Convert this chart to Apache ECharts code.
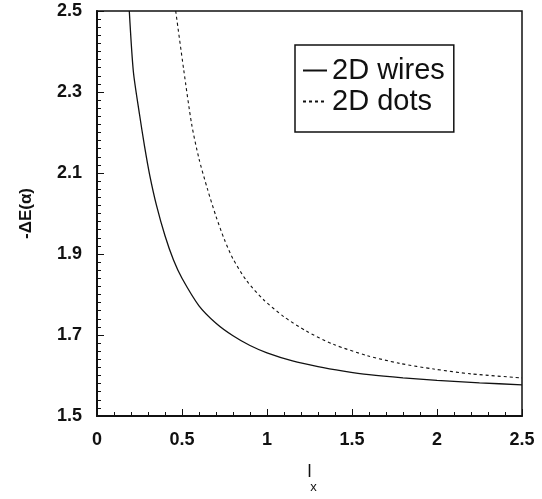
<!DOCTYPE html>
<html>
<head>
<meta charset="utf-8">
<script src="https://cdn.jsdelivr.net/npm/echarts@6/dist/echarts.min.js"></script>
<style>
  html, body { margin: 0; padding: 0; background: #fff; }
  #chart { width: 542px; height: 499px; }
</style>
</head>
<body>
<div id="chart"></div>
<script>
// 2D wires (solid)
const wiresX = [0.19, 0.214, 0.25, 0.28, 0.31, 0.35, 0.40, 0.45, 0.50, 0.60, 0.70, 0.80, 0.90, 1.0, 1.15, 1.30, 1.45, 1.60, 1.80, 2.0, 2.25, 2.5];
const wiresY = [2.5, 2.35, 2.245, 2.165, 2.095, 2.02, 1.945, 1.885, 1.84, 1.772, 1.729, 1.698, 1.674, 1.656, 1.636, 1.622, 1.611, 1.602, 1.594, 1.588, 1.582, 1.577];
// 2D dots (dashed)
const dotsX = [0.463, 0.51, 0.557, 0.60, 0.65, 0.70, 0.75, 0.80, 0.88, 0.98, 1.1, 1.23, 1.39, 1.59, 1.78, 1.98, 2.2, 2.5];
const dotsY = [2.5, 2.355, 2.22, 2.135, 2.06, 1.993, 1.935, 1.888, 1.834, 1.787, 1.745, 1.71, 1.677, 1.649, 1.630, 1.616, 1.604, 1.594];

const seriesNames = ["2D wires", "2D dots"];

function pairs(xs, ys) {
  return xs.map((x, i) => [x, ys[i]]);
}

const font = "'Liberation Sans', Arial, Helvetica, sans-serif";
const ink = "#111";

let chart = echarts.init(document.getElementById("chart"));
chart.setOption({
  animation: false,
  backgroundColor: "#fff",
  textStyle: { fontFamily: font },
  grid: {
    left: 97,
    right: 20,
    top: 11,
    bottom: 83,
    show: true,
    borderColor: ink,
    borderWidth: 1.5
  },
  legend: {
    orient: "vertical",
    left: 295,
    top: 45,
    padding: [11, 9, 16, 7],
    itemGap: 2,
    itemWidth: 24,
    itemHeight: 14,
    borderColor: ink,
    borderWidth: 1.5,
    itemStyle: { opacity: 0 },
    data: seriesNames,
    textStyle: { fontSize: 29, color: ink, fontFamily: font }
  },
  xAxis: {
    type: "value",
    min: 0,
    max: 2.5,
    interval: 0.5,
    name: "{a|l}\n{b|x}",
    nameLocation: "middle",
    nameGap: 48,
    nameTextStyle: {
      rich: {
        a: { fontSize: 18, color: ink, fontFamily: font, lineHeight: 16 },
        b: { fontSize: 13, color: ink, fontFamily: font, padding: [0, 0, 0, 8], lineHeight: 14 }
      }
    },
    axisLine: { show: true, lineStyle: { color: ink, width: 2 } },
    axisTick: { show: true, inside: true, length: 7, lineStyle: { color: ink } },
    minorTick: { show: true, splitNumber: 5, length: 4, lineStyle: { color: ink } },
    splitLine: { show: false },
    axisLabel: {
      margin: 15,
      fontSize: 18,
      fontWeight: "bold",
      color: ink,
      formatter: v => String(Number(v.toFixed(1)))
    }
  },
  yAxis: {
    type: "value",
    min: 1.5,
    max: 2.5,
    interval: 0.2,
    name: "-ΔE(α)",
    nameLocation: "middle",
    nameRotate: 90,
    nameGap: 62,
    nameTextStyle: { fontSize: 17, fontWeight: "bold", color: ink, fontFamily: font },
    axisLine: { show: true, lineStyle: { color: ink, width: 2 } },
    axisTick: { show: true, inside: true, length: 7, lineStyle: { color: ink } },
    minorTick: { show: true, splitNumber: 10, length: 4, lineStyle: { color: ink } },
    splitLine: { show: false },
    axisLabel: {
      margin: 15,
      fontSize: 18,
      fontWeight: "bold",
      color: ink,
      formatter: v => v.toFixed(1)
    }
  },
  series: [
    {
      name: seriesNames[0],
      type: "line",
      data: pairs(wiresX, wiresY),
      showSymbol: false,
      symbol: "none",
      smooth: 0.25,
      itemStyle: { color: ink },
      lineStyle: { color: ink, width: 1.3, type: "solid" }
    },
    {
      name: seriesNames[1],
      type: "line",
      data: pairs(dotsX, dotsY),
      showSymbol: false,
      symbol: "none",
      smooth: 0.25,
      itemStyle: { color: ink },
      lineStyle: { color: ink, width: 1.1, type: [3, 3] }
    }
  ]
});
</script>
</body>
</html>
